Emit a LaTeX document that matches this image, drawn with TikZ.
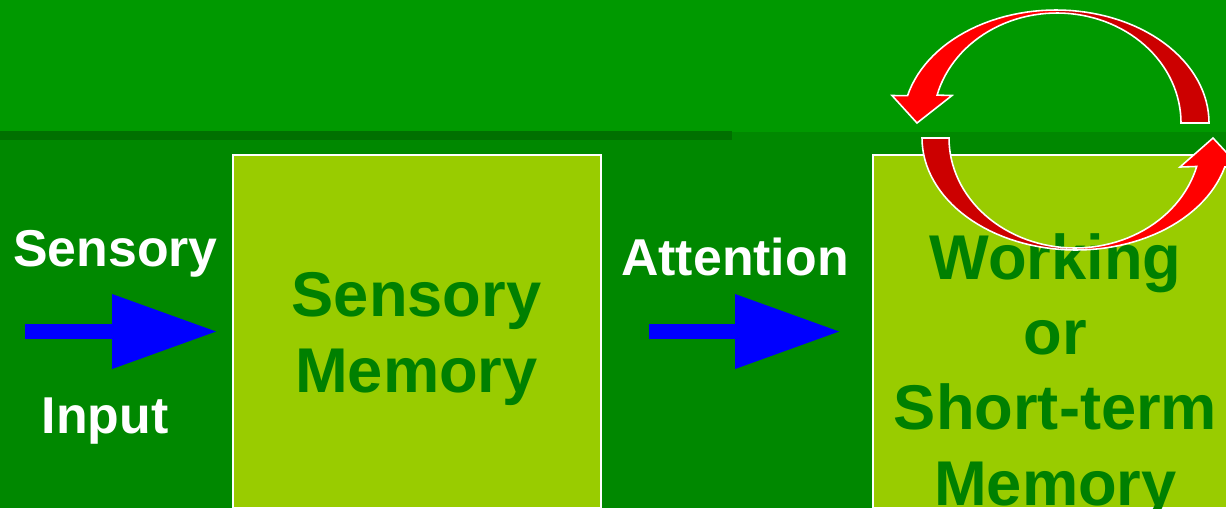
\documentclass[tikz,border=0pt]{standalone}
\usepackage{fontspec}
\setmainfont{Liberation Sans}
\usepackage{xcolor}
\usepackage{tikz}
\usetikzlibrary{arrows.meta, positioning, calc}

\definecolor{topgreen}{RGB}{0,153,0}
\definecolor{basegreen}{RGB}{0,136,0}
\definecolor{bargreen}{RGB}{0,112,0}
\definecolor{boxlime}{RGB}{153,204,0}
\definecolor{textgreen}{RGB}{0,128,0}
\definecolor{looplight}{RGB}{255,0,0}
\definecolor{loopdark}{RGB}{204,0,0}

\tikzset{
  membox/.style={draw=white, line width=1.1pt, fill=boxlime, inner sep=0pt},
  whitelabel/.style={text=white, font=\bfseries\fontsize{29.5pt}{35pt}\selectfont, inner sep=0pt, anchor=base},
  boxlabel/.style={text=textgreen, font=\bfseries\fontsize{36pt}{42.8pt}\selectfont, inner sep=0pt, align=center, anchor=base},
  flowarrow/.style={draw=blue, line width=0.31cm, -{Triangle[length=2.08cm, width=1.5cm, line width=0pt]}},
  loopedge/.style={draw=white, line width=0.9pt},
}

\begin{document}
\begin{tikzpicture}[x=0.02cm, y=-0.02cm]
  \useasboundingbox (0,0) rectangle (1226,508);
  \clip (0,0) rectangle (1226,508);
  % background
  \fill[topgreen] (0,0) rectangle (1226,132);
  \fill[basegreen] (0,132) rectangle (1226,508);
  \fill[bargreen] (0,131) rectangle (732,140);

  % memory stores
  \node[membox, minimum width=7.36cm, minimum height=7.06cm] (sm) at (417,331.5) {};
  \node[membox, minimum width=7.4cm, minimum height=7.06cm] (wm) at (1058,331.5) {};
  \node[boxlabel] (smlbl) at (416.5,392) {Sensory\\Memory};
  \node[boxlabel] (wmlbl) at (1055.5,505) {Working\\or\\Short-term\\Memory};

  % flow
  \node[whitelabel] (senlbl) at (115.5,266) {Sensory};
  \node[whitelabel] (inlbl) at (105,433) {Input};
  \node[whitelabel] (attlbl) at (735,275) {Attention};
  \coordinate (senin) at (25,331.5);
  \coordinate (attin) at (649,331.5);
  \draw[flowarrow] (senin) -- ([xshift=-0.32cm]sm.west);
  \draw[flowarrow] (attin) -- ([xshift=-0.66cm]wm.west);

  % rehearsal loop, upper half
  \fill[loopdark] plot[domain=0:90, samples=30] ({1056+153*cos(\x)},{123-113*sin(\x)})
    -- plot[domain=90:0, samples=30] ({1057+124*cos(\x)},{123-110*sin(\x)}) -- cycle;
  \fill[looplight] plot[domain=90:166, samples=30] ({1056+153*cos(\x)},{123-113*sin(\x)})
    -- (892,95.5) -- (917,123) -- (952,95.5)
    -- plot[domain=165.3:90, samples=30] ({1057+124*cos(\x)},{123-110*sin(\x)}) -- cycle;
  \draw[loopedge] plot[domain=0:166, samples=60] ({1056+153*cos(\x)},{123-113*sin(\x)})
    -- (892,95.5) -- (917,123) -- (952,95.5)
    -- plot[domain=165.3:0, samples=60] ({1057+124*cos(\x)},{123-110*sin(\x)}) -- cycle;

  % rehearsal loop, lower half
  \fill[loopdark] plot[domain=180:90, samples=30] ({1076+154*cos(\x)},{138+112*sin(\x)})
    -- plot[domain=90:180, samples=30] ({1075+126*cos(\x)},{138+110*sin(\x)}) -- cycle;
  \fill[looplight] plot[domain=90:15, samples=30] ({1076+154*cos(\x)},{138+112*sin(\x)})
    -- (1240,167) -- (1213,138) -- (1180,167)
    -- plot[domain=15:90, samples=30] ({1075+126*cos(\x)},{138+110*sin(\x)}) -- cycle;
  \draw[loopedge] plot[domain=180:15, samples=60] ({1076+154*cos(\x)},{138+112*sin(\x)})
    -- (1240,167) -- (1213,138) -- (1180,167)
    -- plot[domain=15:180, samples=60] ({1075+126*cos(\x)},{138+110*sin(\x)}) -- cycle;
\end{tikzpicture}
\end{document}
